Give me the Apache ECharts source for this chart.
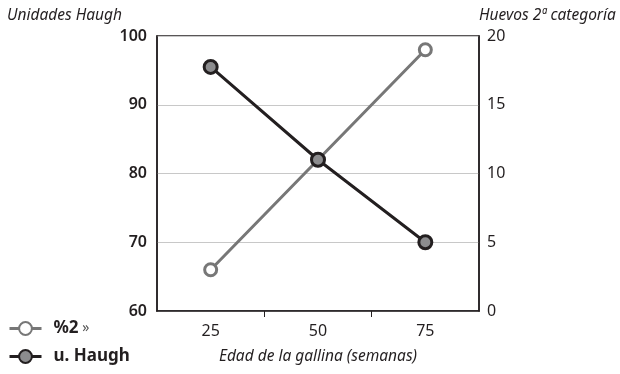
<!DOCTYPE html>
<html>
<head>
<meta charset="utf-8">
<script src="https://cdn.jsdelivr.net/npm/echarts@6/dist/echarts.min.js"></script>
<style>
  html, body { margin: 0; padding: 0; background: #ffffff; }
  #chart { width: 620px; height: 374px; }
</style>
</head>
<body>
<div id="chart"></div>
<script>
// Hen age in weeks
const categories = ['25', '50', '75'];
// Second-grade eggs (%), right axis
const segundaCategoria = [3, 11, 19];
// Haugh units, left axis
const unidadesHaugh = [95.5, 82, 70];
// Axis ranges
const leftTicks = { min: 60, max: 100, interval: 10 };
const rightTicks = { min: 0, max: 20, interval: 5 };

const FONT = '"Noto Sans", "Open Sans", sans-serif';
const DARK = '#231f20';
const GREY = '#777777';

const chart = echarts.init(document.getElementById('chart'), null, { renderer: 'canvas' });

chart.setOption({
  animation: false,
  textStyle: { fontFamily: FONT },
  grid: {
    left: 157, right: 141, top: 36, bottom: 63,
    show: true, borderColor: DARK, borderWidth: 1.5, backgroundColor: 'transparent'
  },
  legend: {
    orient: 'vertical',
    left: 3,
    top: 315,
    itemWidth: 32,
    itemHeight: 16,
    itemGap: 11,
    selectedMode: false,
    data: ['%2', 'u. Haugh'],
    lineStyle: { width: 3 },
    formatter: function (name) {
      return name === '%2' ? '{b|%2}{s| »}' : '{b|' + name + '}';
    },
    textStyle: {
      fontFamily: FONT,
      padding: [0, 0, 0, 7],
      rich: {
        b: { fontSize: 17, fontWeight: 'bold', color: DARK, fontFamily: FONT },
        s: { fontSize: 14, color: '#555555', fontFamily: FONT }
      }
    }
  },
  xAxis: [
    {
      type: 'category',
      data: categories,
      boundaryGap: true,
      name: 'Edad de la gallina (semanas)',
      nameLocation: 'middle',
      nameGap: 38,
      nameTextStyle: { fontFamily: FONT, fontStyle: 'italic', fontSize: 15.5, color: DARK },
      axisLine: { show: true, lineStyle: { color: DARK, width: 1.5 } },
      axisTick: { show: false },
      axisLabel: { fontFamily: FONT, fontSize: 16, color: DARK, margin: 12 },
      splitLine: { show: false }
    },
    {
      // helper axis carrying the interior category separators
      type: 'value',
      position: 'bottom',
      min: 0, max: 3, interval: 3,
      axisLine: { show: false },
      axisTick: { show: false },
      axisLabel: { show: false },
      splitLine: { show: false },
      minorTick: { show: true, splitNumber: 3, length: 6, lineStyle: { color: DARK, width: 1 } },
      minorSplitLine: { show: false }
    }
  ],
  yAxis: [
    {
      type: 'value',
      position: 'left',
      min: leftTicks.min, max: leftTicks.max, interval: leftTicks.interval,
      name: 'Unidades Haugh',
      nameLocation: 'end',
      nameGap: 12,
      nameTextStyle: { fontFamily: FONT, fontStyle: 'italic', fontSize: 15.5, color: DARK, align: 'right', padding: [0, 35, 0, 0] },
      axisLine: { show: true, lineStyle: { color: DARK, width: 1.5 } },
      axisTick: { show: false },
      axisLabel: { fontFamily: FONT, fontSize: 16, fontWeight: 600, color: DARK, margin: 10 },
      splitLine: { show: true, lineStyle: { color: '#c8c8c8', width: 1 } }
    },
    {
      type: 'value',
      position: 'right',
      min: rightTicks.min, max: rightTicks.max, interval: rightTicks.interval,
      name: 'Huevos 2ª categoría',
      nameLocation: 'end',
      nameGap: 12,
      nameTextStyle: { fontFamily: FONT, fontStyle: 'italic', fontSize: 15.5, color: DARK, align: 'left', padding: [0, 0, 0, 0] },
      axisLine: { show: true, lineStyle: { color: DARK, width: 1.5 } },
      axisTick: { show: false },
      axisLabel: { fontFamily: FONT, fontSize: 16, color: DARK, margin: 8 },
      splitLine: { show: false }
    }
  ],
  series: [
    {
      name: '%2',
      type: 'line',
      xAxisIndex: 0,
      yAxisIndex: 1,
      data: segundaCategoria,
      symbol: 'circle',
      symbolSize: 12,
      lineStyle: { color: GREY, width: 3 },
      itemStyle: { color: '#ffffff', borderColor: GREY, borderWidth: 3 },
      z: 2
    },
    {
      name: 'u. Haugh',
      type: 'line',
      xAxisIndex: 0,
      yAxisIndex: 0,
      data: unidadesHaugh,
      symbol: 'circle',
      symbolSize: 13,
      lineStyle: { color: DARK, width: 3 },
      itemStyle: { color: '#8c8c8e', borderColor: DARK, borderWidth: 3 },
      z: 3
    }
  ]
});
</script>
</body>
</html>
